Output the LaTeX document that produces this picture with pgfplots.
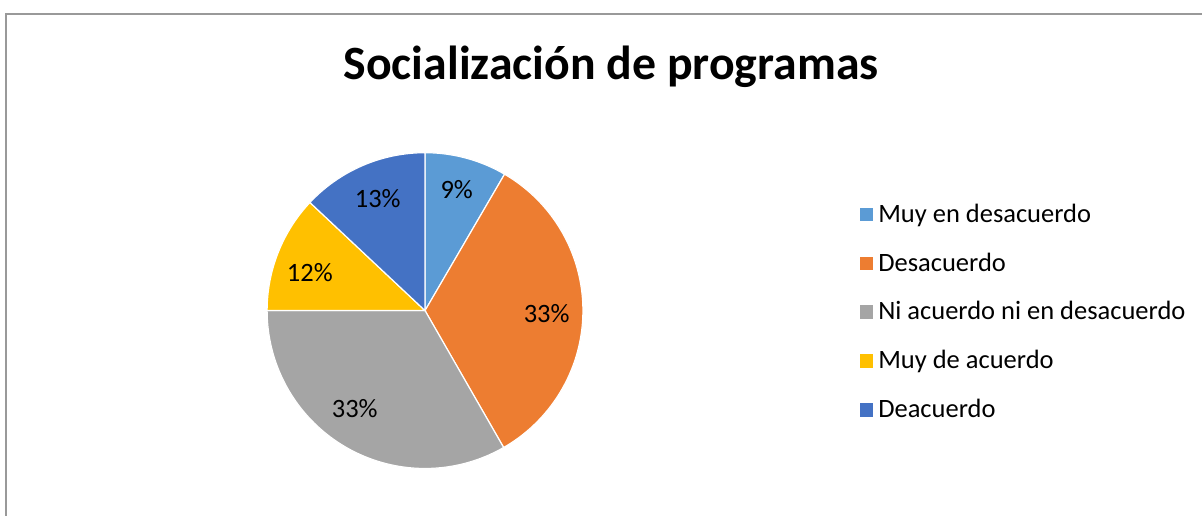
\documentclass[border=0pt]{standalone}
\usepackage{pgfplots}
\usepackage{fontspec}
\setmainfont{Carlito}
\pgfplotsset{compat=1.18}
\definecolor{cA}{HTML}{5B9BD5}
\definecolor{cB}{HTML}{ED7D31}
\definecolor{cC}{HTML}{A5A5A5}
\definecolor{cD}{HTML}{FFC000}
\definecolor{cE}{HTML}{4472C4}

% shares in percent, clockwise from 12 o'clock
\def\vA{8.4}
\def\vB{33.3}
\def\vC{33.3}
\def\vD{12.0}
\def\vE{13.0}
\pgfmathsetmacro\aA{90}
\pgfmathsetmacro\aB{\aA-3.6*\vA}
\pgfmathsetmacro\aC{\aB-3.6*\vB}
\pgfmathsetmacro\aD{\aC-3.6*\vC}
\pgfmathsetmacro\aE{\aD-3.6*\vD}
\pgfmathsetmacro\aF{\aE-3.6*\vE}
\def\cx{425.3}
\def\cy{205.2}
\def\rr{158}

\begin{document}
\begin{tikzpicture}
\begin{axis}[
    scale only axis,
    width=601.5bp, height=258bp,
    xmin=0, xmax=1203, ymin=0, ymax=516,
    hide axis,
    clip=false,
    legend cell align=left,
    legend style={draw=none, fill=none, at={(axis cs:858.5,316.5)}, anchor=north west,
      font=\fontsize{13.3}{15}\selectfont, row sep=9.8bp, inner sep=0pt,
      /tikz/every even column/.append style={column sep=0pt}},
    legend image code/.code={\fill[#1] (0bp,-3.7bp) rectangle (7.4bp,3.7bp);},
  ]
  \addplot[fill=cA, draw=white, line width=0.6pt, domain=\aB:\aA, samples=40, variable=\t]
    ({\cx+\rr*cos(\t)},{\cy+\rr*sin(\t)}) -- (axis cs:\cx,\cy) -- cycle;
  \addlegendentry{Muy en desacuerdo}
  \addplot[fill=cB, draw=white, line width=0.6pt, domain=\aC:\aB, samples=80, variable=\t]
    ({\cx+\rr*cos(\t)},{\cy+\rr*sin(\t)}) -- (axis cs:\cx,\cy) -- cycle;
  \addlegendentry{Desacuerdo}
  \addplot[fill=cC, draw=white, line width=0.6pt, domain=\aD:\aC, samples=80, variable=\t]
    ({\cx+\rr*cos(\t)},{\cy+\rr*sin(\t)}) -- (axis cs:\cx,\cy) -- cycle;
  \addlegendentry{Ni acuerdo ni en desacuerdo}
  \addplot[fill=cD, draw=white, line width=0.6pt, domain=\aE:\aD, samples=40, variable=\t]
    ({\cx+\rr*cos(\t)},{\cy+\rr*sin(\t)}) -- (axis cs:\cx,\cy) -- cycle;
  \addlegendentry{Muy de acuerdo}
  \addplot[fill=cE, draw=white, line width=0.6pt, domain=\aF:\aE, samples=40, variable=\t]
    ({\cx+\rr*cos(\t)},{\cy+\rr*sin(\t)}) -- (axis cs:\cx,\cy) -- cycle;
  \addlegendentry{Deacuerdo}

  \begin{scope}[every node/.style={font=\fontsize{13.3}{15}\selectfont, text=black}]
    \node at (axis cs:457,326) {9\%};
    \node at (axis cs:547,202) {33\%};
    \node at (axis cs:355,107) {33\%};
    \node at (axis cs:310,243) {12\%};
    \node at (axis cs:378,317) {13\%};
  \end{scope}
  \node[font=\bfseries\fontsize{24}{28}\selectfont] at (axis cs:611.5,449) {Socialización de programas};
  \draw[black!40, line width=0.8bp] (axis cs:6,0) -- (axis cs:6,502) -- (axis cs:1203,502);
  \path (axis cs:0,0) (axis cs:1203,516);
\end{axis}
\end{tikzpicture}
\end{document}
